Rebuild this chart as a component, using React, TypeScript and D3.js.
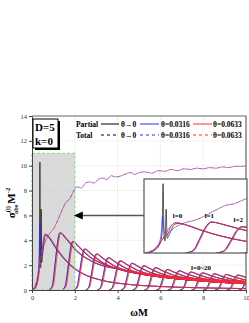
import { useRef, useEffect } from "react";
import * as d3 from "d3";

type Pt = [number, number];

// ωM vs σ_abs^(l) M^-2 (D=5, k=0)
const partialL0Black: Pt[] = [[0.05, 0], [0.2, 0.4], [0.3, 1.2], [0.35, 2.8], [0.37, 10.3], [0.39, 2.6], [0.41, 1.8], [0.43, 6.5], [0.45, 2.2], [0.5, 2.9], [0.6, 4.3], [0.7, 4.4], [0.8, 4.2], [1.1, 3.4], [1.5, 2.5], [2.0, 1.7], [2.5, 1.2], [3.2, 0.8], [4.5, 0.45], [6, 0.28], [8, 0.17], [10, 0.11]];
const partialL0Blue: Pt[] = [[0.05, 0], [0.2, 0.5], [0.3, 1.6], [0.34, 3.4], [0.36, 5.5], [0.39, 3.2], [0.44, 2.6], [0.52, 3.9], [0.6, 4.5], [0.8, 4.2], [1.1, 3.4], [1.5, 2.5], [2.0, 1.7], [2.5, 1.2], [3.2, 0.8], [4.5, 0.45], [6, 0.28], [8, 0.17], [10, 0.11]];
const partialL0: Pt[] = [[0.05, 0], [0.2, 0.5], [0.35, 2.2], [0.5, 4.0], [0.6, 4.5], [0.8, 4.2], [1.1, 3.4], [1.5, 2.5], [2.0, 1.7], [2.5, 1.2], [3.2, 0.8], [4.5, 0.45], [6, 0.28], [8, 0.17], [10, 0.11]];
const partialL1: Pt[] = [[0.8, 0], [0.95, 0.35], [1.08, 2.1], [1.2, 3.9], [1.3, 4.6], [1.6, 4.1], [2.1, 3.1], [2.8, 2.3], [4.3, 1.6], [6.3, 1.1], [10, 0.65]];
const partialL2: Pt[] = [[1.4, 0], [1.55, 0.31], [1.68, 1.76], [1.8, 3.32], [1.9, 3.9], [2.2, 3.43], [2.7, 2.65], [3.4, 2.03], [4.9, 1.4], [6.9, 0.98], [9.9, 0.62]];
const partialL3: Pt[] = [[1.95, 0], [2.1, 0.26], [2.23, 1.49], [2.35, 2.81], [2.45, 3.3], [2.75, 2.9], [3.25, 2.24], [3.95, 1.72], [5.45, 1.19], [7.45, 0.83], [10.45, 0.53]];
const partialL4: Pt[] = [[2.5, 0], [2.65, 0.23], [2.78, 1.31], [2.9, 2.47], [3.0, 2.9], [3.3, 2.55], [3.8, 1.97], [4.5, 1.51], [6.0, 1.04], [8.0, 0.73], [11, 0.46]];
const partialL5: Pt[] = [[3.05, 0], [3.2, 0.21], [3.33, 1.17], [3.45, 2.21], [3.55, 2.6], [3.85, 2.29], [4.35, 1.77], [5.05, 1.35], [6.55, 0.94], [8.55, 0.65], [11.55, 0.42]];
const partialL6: Pt[] = [[3.6, 0], [3.75, 0.19], [3.88, 1.06], [4.0, 2.0], [4.1, 2.35], [4.4, 2.07], [4.9, 1.6], [5.6, 1.22], [7.1, 0.85], [9.1, 0.59], [12.1, 0.38]];
const partialL7: Pt[] = [[4.15, 0], [4.3, 0.17], [4.43, 0.97], [4.55, 1.83], [4.65, 2.15], [4.95, 1.89], [5.45, 1.46], [6.15, 1.12], [7.65, 0.77], [9.65, 0.54], [12.65, 0.34]];
const partialL8: Pt[] = [[4.7, 0], [4.85, 0.16], [4.98, 0.88], [5.1, 1.66], [5.2, 1.95], [5.5, 1.72], [6.0, 1.33], [6.7, 1.01], [8.2, 0.7], [10.2, 0.49]];
const partialL9: Pt[] = [[5.25, 0], [5.4, 0.14], [5.53, 0.81], [5.65, 1.53], [5.75, 1.8], [6.05, 1.58], [6.55, 1.22], [7.25, 0.94], [8.75, 0.65], [10.75, 0.45]];
const partialL10: Pt[] = [[5.8, 0], [5.95, 0.13], [6.08, 0.74], [6.2, 1.4], [6.3, 1.65], [6.6, 1.45], [7.1, 1.12], [7.8, 0.86], [9.3, 0.59], [11.3, 0.41]];
const partialL11: Pt[] = [[6.35, 0], [6.5, 0.12], [6.63, 0.7], [6.75, 1.32], [6.85, 1.55], [7.15, 1.36], [7.65, 1.05], [8.35, 0.81], [9.85, 0.56], [11.85, 0.39]];
const partialL12: Pt[] = [[6.9, 0], [7.05, 0.12], [7.18, 0.65], [7.3, 1.23], [7.4, 1.45], [7.7, 1.28], [8.2, 0.99], [8.9, 0.75], [10.4, 0.52]];
const partialL13: Pt[] = [[7.45, 0], [7.6, 0.11], [7.73, 0.62], [7.85, 1.17], [7.95, 1.38], [8.25, 1.21], [8.75, 0.94], [9.45, 0.72], [10.95, 0.5]];
const partialL14: Pt[] = [[8.0, 0], [8.15, 0.1], [8.28, 0.59], [8.4, 1.11], [8.5, 1.3], [8.8, 1.14], [9.3, 0.88], [10.0, 0.68], [11.5, 0.47]];
const partialL15: Pt[] = [[8.55, 0], [8.7, 0.1], [8.83, 0.56], [8.95, 1.06], [9.05, 1.25], [9.35, 1.1], [9.85, 0.85], [10.55, 0.65]];
const partialL16: Pt[] = [[9.1, 0], [9.25, 0.1], [9.38, 0.54], [9.5, 1.02], [9.6, 1.2], [9.9, 1.06], [10.4, 0.82]];
const partialL17: Pt[] = [[9.65, 0], [9.8, 0.09], [9.93, 0.52], [10.05, 0.98], [10.15, 1.15], [10.45, 1.01]];
const partialL18: Pt[] = [[10.2, 0], [10.35, 0.09], [10.48, 0.5], [10.6, 0.95]];
const partialL19: Pt[] = [[10.75, 0], [10.9, 0.09], [11.03, 0.48]];
const partialL20: Pt[] = [[11.3, 0], [11.45, 0.08], [11.58, 0.46]];

const partialsHigh: Pt[][] = [
  partialL1, partialL2, partialL3, partialL4, partialL5, partialL6, partialL7,
  partialL8, partialL9, partialL10, partialL11, partialL12, partialL13, partialL14,
  partialL15, partialL16, partialL17, partialL18, partialL19, partialL20,
];

const totalCurve: Pt[] = [[0, 0], [0.2, 0.6], [0.4, 2.4], [0.6, 3.8], [0.8, 4.5], [1.0, 4.9], [1.2, 5.6], [1.45, 6.6], [1.6, 7.1], [1.75, 7.3], [1.9, 7.8], [2.1, 8.3], [2.3, 8.2], [2.5, 8.6], [2.7, 8.7], [2.9, 8.6], [3.1, 8.9], [3.3, 9.0], [3.5, 8.9], [3.7, 9.2], [3.9, 9.1], [4.1, 9.15], [4.4, 9.35], [4.6, 9.45], [4.8, 9.3], [5.0, 9.45], [5.3, 9.5], [5.6, 9.4], [5.9, 9.6], [6.2, 9.55], [6.5, 9.7], [6.8, 9.6], [7.1, 9.75], [7.4, 9.7], [7.7, 9.8], [8.0, 9.75], [8.3, 9.85], [8.6, 9.8], [8.9, 9.9], [9.2, 9.85], [9.5, 9.95], [9.8, 9.95], [10, 10.0]];

const xTicks = [0, 2, 4, 6, 8, 10];
const yTicks = [0, 2, 4, 6, 8, 10, 12, 14];
const thetaLabels = ["θ→0", "θ=0.0316", "θ=0.0633"];
const thetaColors = ["#000000", "#2b2bff", "#ff2a2a"];
const insetLabels = [
  { text: "l=0", w: 0.65, s: 5.2 },
  { text: "l=1", w: 1.27, s: 5.2 },
  { text: "l=2", w: 1.83, s: 4.6 },
];

const SERIF = "'Liberation Serif', 'Times New Roman', serif";

export default function App() {
  const svgRef = useRef<SVGSVGElement>(null);

  useEffect(() => {
    const width = 249;
    const height = 323;
    const svg = d3.select(svgRef.current).attr("width", width).attr("height", height);
    svg.selectAll("*").remove();

    const x = d3.scaleLinear().domain([0, 10]).range([32, 246]);
    const y = d3.scaleLinear().domain([0, 14]).range([290, 116]);

    const defs = svg.append("defs");
    defs.append("clipPath").attr("id", "plotClip")
      .append("rect").attr("x", 32).attr("y", 116).attr("width", 214).attr("height", 174);

    // grey zoom region
    svg.append("rect")
      .attr("x", x(0)).attr("y", y(11))
      .attr("width", x(2) - x(0)).attr("height", y(0) - y(11))
      .attr("fill", "#dadada");

    // grid
    const grid = svg.append("g").attr("stroke", "#c8c8c8").attr("stroke-width", 0.6).attr("stroke-dasharray", "1,1.5");
    grid.selectAll(".gy").data(yTicks.slice(1, -1)).enter().append("line")
      .attr("x1", x(0)).attr("x2", x(10)).attr("y1", (d) => y(d)).attr("y2", (d) => y(d));
    grid.selectAll(".gx").data(xTicks.slice(1, -1)).enter().append("line")
      .attr("y1", y(0)).attr("y2", y(14)).attr("x1", (d) => x(d)).attr("x2", (d) => x(d));

    const plot = svg.append("g").attr("clip-path", "url(#plotClip)");

    const drawCurves = (g: any, xs: any, ys: any, sw: number) => {
      const line = d3.line<Pt>().x((d) => xs(d[0])).y((d) => ys(d[1])).curve(d3.curveMonotoneX);
      // θ→0
      const gBlack = g.append("g").attr("fill", "none").attr("stroke", thetaColors[0]).attr("stroke-width", sw * 0.8);
      gBlack.append("path").attr("d", line(partialL0Black));
      partialsHigh.forEach((p) => gBlack.append("path").attr("d", line(p)));
      // θ=0.0316
      const gBlue = g.append("g").attr("fill", "none").attr("stroke", thetaColors[1]).attr("stroke-width", sw * 0.85);
      gBlue.append("path").attr("d", line(partialL0Blue));
      partialsHigh.forEach((p) => gBlue.append("path").attr("d", line(p)));
      // θ=0.0633 (slightly shifted right)
      const gRed = g.append("g").attr("fill", "none").attr("stroke", thetaColors[2]).attr("stroke-width", sw)
        .attr("transform", "translate(1,0)");
      gRed.append("path").attr("d", line(partialL0));
      partialsHigh.forEach((p) => gRed.append("path").attr("d", line(p)));
      // totals
      g.append("path").attr("d", line(totalCurve)).attr("fill", "none")
        .attr("stroke", thetaColors[1]).attr("stroke-width", sw * 0.9).attr("stroke-dasharray", "3,3");
      g.append("path").attr("d", line(totalCurve)).attr("fill", "none")
        .attr("stroke", thetaColors[2]).attr("stroke-width", sw * 0.9).attr("stroke-dasharray", "3,3")
        .attr("stroke-dashoffset", 3);
    };

    drawCurves(plot, x, y, 0.8);

    // green dashed border of zoomed region
    svg.append("rect")
      .attr("x", x(0)).attr("y", y(11))
      .attr("width", x(2) - x(0)).attr("height", y(0) - y(11))
      .attr("fill", "none").attr("stroke", "#8fe08f").attr("stroke-width", 1.3).attr("stroke-dasharray", "3,2");

    // axes
    const font = (g: any) => {
      g.selectAll("text").attr("font-family", SERIF).attr("font-size", 6.5).attr("fill", "#333");
      g.selectAll("line").attr("stroke", "#444");
      g.select(".domain").attr("stroke", "#444");
    };
    svg.append("g").attr("transform", `translate(0,${y(0)})`)
      .call(d3.axisBottom(x).tickValues(xTicks).tickSize(3).tickPadding(2).tickFormat(d3.format("d")))
      .call(font);
    svg.append("g").attr("transform", `translate(${x(0)},0)`)
      .call(d3.axisLeft(y).tickValues(yTicks).tickSize(3).tickPadding(2).tickFormat(d3.format("d")))
      .call(font);
    // frame
    svg.append("path")
      .attr("d", `M${x(0)},${y(14)}H${x(10)}V${y(0)}`)
      .attr("fill", "none").attr("stroke", "#666").attr("stroke-width", 1.2);

    // arrow to inset
    const ix0 = 144, ix1 = 247, iy0 = 179, iy1 = 253;
    const arrowY = y(6);
    svg.append("line").attr("x1", x(2) + 6).attr("x2", ix0).attr("y1", arrowY).attr("y2", arrowY)
      .attr("stroke", "#555").attr("stroke-width", 1.6);
    svg.append("path")
      .attr("d", `M${x(2) - 1},${arrowY}L${x(2) + 8},${arrowY - 4}L${x(2) + 8},${arrowY + 4}Z`)
      .attr("fill", "#000");

    // inset
    const xi = d3.scaleLinear().domain([0, 2]).range([ix0, ix1]);
    const yi = d3.scaleLinear().domain([0, 11]).range([iy1, iy0]);
    defs.append("clipPath").attr("id", "insetClip")
      .append("rect").attr("x", ix0).attr("y", iy0).attr("width", ix1 - ix0).attr("height", iy1 - iy0);
    svg.append("rect").attr("x", ix0).attr("y", iy0).attr("width", ix1 - ix0).attr("height", iy1 - iy0)
      .attr("fill", "#fff");
    const inset = svg.append("g").attr("clip-path", "url(#insetClip)");
    drawCurves(inset, xi, yi, 0.8);
    svg.append("rect").attr("x", ix0).attr("y", iy0).attr("width", ix1 - ix0).attr("height", iy1 - iy0)
      .attr("fill", "none").attr("stroke", "#555").attr("stroke-width", 1.2);
    svg.selectAll(".il").data(insetLabels).enter().append("text")
      .attr("x", (d) => xi(d.w)).attr("y", (d) => yi(d.s))
      .attr("text-anchor", "middle").attr("font-family", SERIF).attr("font-weight", "bold")
      .attr("font-size", 7).text((d) => d.text);

    svg.append("text").attr("x", x(7.9)).attr("y", y(1.6))
      .attr("text-anchor", "middle").attr("font-family", SERIF).attr("font-weight", "bold")
      .attr("font-size", 7).text("l=0~20");

    // D=5, k=0 box
    svg.append("rect").attr("x", 35).attr("y", 121).attr("width", 25).attr("height", 29).attr("fill", "#000");
    svg.append("rect").attr("x", 33).attr("y", 119).attr("width", 25).attr("height", 29)
      .attr("fill", "#fff").attr("stroke", "#000").attr("stroke-width", 1);
    ["D=5", "k=0"].forEach((t, i) => {
      svg.append("text").attr("x", 35).attr("y", 131 + i * 13.5)
        .attr("font-family", SERIF).attr("font-weight", "bold").attr("font-size", 11).text(t);
    });

    // legend
    const lg = svg.append("g").attr("font-family", SERIF).attr("font-weight", "bold").attr("font-size", 7.5);
    const rows = ["Partial", "Total"];
    const lineX = [[101, 119], [140, 159], [193, 212]];
    const textX = [121, 161, 213];
    rows.forEach((r, ri) => {
      const cy = 124 + ri * 11;
      lg.append("text").attr("x", 76).attr("y", cy + 2.5).text(r);
      thetaLabels.forEach((t, i) => {
        lg.append("line").attr("x1", lineX[i][0]).attr("x2", lineX[i][1]).attr("y1", cy).attr("y2", cy)
          .attr("stroke", thetaColors[i]).attr("stroke-width", 1)
          .attr("stroke-dasharray", ri === 1 ? "3,3" : null);
        lg.append("text").attr("x", textX[i]).attr("y", cy + 2.5).text(t);
      });
    });

    // axis titles
    svg.append("text").attr("x", x(5)).attr("y", 316).attr("text-anchor", "middle")
      .attr("font-family", SERIF).attr("font-weight", "bold").attr("font-size", 10.5).text("ωM");

    const yl = svg.append("text").attr("transform", `translate(15,${y(7)}) rotate(-90)`)
      .attr("text-anchor", "middle").attr("font-family", SERIF).attr("font-weight", "bold").attr("font-size", 11);
    yl.append("tspan").text("σ");
    yl.append("tspan").attr("font-size", 6.5).attr("dy", -5).text("(l)");
    yl.append("tspan").attr("font-size", 6.5).attr("dx", -8).attr("dy", 8).text("abs");
    yl.append("tspan").attr("dy", -3).attr("dx", 1).text("M");
    yl.append("tspan").attr("font-size", 6.5).attr("dy", -5).text("-2");
  }, []);

  return <svg ref={svgRef} style={{ position: "absolute", left: 0, top: 0 }} />;
}
